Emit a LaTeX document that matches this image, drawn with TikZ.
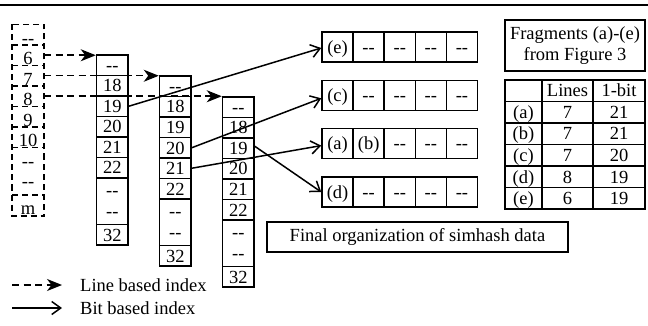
\documentclass[tikz,border=0pt]{standalone}
\usepackage{fontspec}
\setmainfont{Liberation Serif}
\usetikzlibrary{arrows.meta,calc}
\newcommand\dashdash{-{}-}
\begin{document}
\begin{tikzpicture}[x=1pt,y=-1pt,
  every node/.style={font=\fontsize{18.5}{21}\selectfont, inner sep=0pt},
  cell/.style={draw, line width=1.5pt, minimum width=31.5pt, minimum height=20.5pt, text height=12.5pt, text depth=0pt},
  fcell/.style={draw, line width=1.5pt, minimum width=31.1pt, minimum height=30pt, text height=12.5pt, text depth=0pt},
  tcell/.style={draw, line width=1.4pt, minimum height=21.5pt, text height=12.5pt, text depth=0pt},
  lrow/.style={minimum width=32pt, minimum height=20.5pt, text height=20pt, text depth=0.5pt},
  lcol/.style={line width=1.5pt, dash pattern=on 6pt off 4pt},
  dasharrow/.style={line width=1.5pt, dash pattern=on 7pt off 4.5pt, -{Stealth[length=15pt,width=12pt,inset=4.5pt]}},
  bitarrow/.style={line width=1.5pt, -{Straight Barb[length=9pt,width=13pt]}}
]
\useasboundingbox (0,0) rectangle (648,326);
% top rule
\draw[line width=2.4pt] (0,5) -- (648,5);

% left dashed column
\draw[lcol] (12,24.5) rectangle (44,216);
\foreach \yy in {45,65.5,86,106.5,127,147.5,195} \draw[lcol] (12,\yy) -- (44,\yy);
\foreach \t [count=\i from 0] in {\dashdash,6,7,8,9,10}
  \node[lrow] (Lr\i) at (28,34.75+20.5*\i) {\t};
\node[anchor=base] (Lda) at (28,167.5) {\dashdash};
\node[anchor=base] (Ldb) at (28,187.5) {\dashdash};
\node[anchor=base] (Lm) at (28,214) {m};

% solid columns
\foreach \c/\x/\y in {1/96.5/55,2/159.5/76,3/222.5/97}{
  \foreach \t [count=\i from 0] in {\dashdash,18,19,20,21,22}
    \node[cell] (c\c-\i) at (\x+15.75,\y+10.25+20.5*\i) {\t};
  \node[cell, minimum height=46.5pt] (c\c-d) at (\x+15.75,\y+146.25) {};
  \node[anchor=base] (c\c-da) at (\x+15.75,\y+141.6) {\dashdash};
  \node[anchor=base] (c\c-db) at (\x+15.75,\y+162.6) {\dashdash};
  \node[cell] (c\c-7) at (\x+15.75,\y+179.75) {32};
}

% dashed arrows
\draw[dasharrow] (Lr1.east) -- (Lr1.east -| c1-0.west);
\draw[dasharrow] (Lr2.east) -- (Lr2.east -| c2-0.west);
\draw[dasharrow] (Lr3.east) -- (Lr3.east -| c3-0.west);

% fragment rows
\foreach \r/\y/\tb in {e/47/\dashdash, c/95.3/\dashdash, a/143.6/(b), d/192/\dashdash}{
  \node[fcell] (f\r1) at (337.55,\y) {(\r)};
  \node[fcell] (f\r2) at (368.65,\y) {\tb};
  \foreach \j in {3,4,5} \node[fcell] (f\r\j) at (322+31.1*\j-15.55,\y) {\dashdash};
}

% bit arrows
\draw[bitarrow] (c1-2.east) -- ($(fe1.west)+(0,1)$);
\draw[bitarrow] (c2-3.east) -- ($(fc1.west)+(0,3)$);
\draw[bitarrow] (c2-4.east) -- ($(fa1.west)+(0,2)$);
\draw[bitarrow] ($(c3-2.east)+(0,-2)$) -- (fd1.west);

% final box
\node[draw, line width=1.2pt, minimum width=301pt, minimum height=30pt] (fin) at (417.5,237) {Final organization of simhash data};

% fragments box and table
\node[draw, line width=1.5pt, minimum width=140pt, minimum height=51pt, align=center] (fb) at (575,45.5) {Fragments (a)-(e)\\from Figure 3};
\foreach \a/\b/\cc [count=\i from 0] in {/Lines/1-bit, (a)/7/21, (b)/7/21, (c)/7/20, (d)/8/19, (e)/6/19}{
  \node[tcell, minimum width=37pt] (t\i-1) at (523.5,90.75+21.5*\i) {\a};
  \node[tcell, minimum width=51pt] (t\i-2) at (567.5,90.75+21.5*\i) {\b};
  \node[tcell, minimum width=52pt] (t\i-3) at (619,90.75+21.5*\i) {\cc};
}

% legend
\coordinate (l1a) at (12,285); \coordinate (l1b) at (62,285);
\node[anchor=west] (l1t) at (80,285) {Line based index};
\draw[dasharrow] (l1a) -- (l1b);
\coordinate (l2a) at (12,308); \coordinate (l2b) at (62,308);
\node[anchor=west] (l2t) at (80,308) {Bit based index};
\draw[bitarrow] (l2a) -- (l2b);
\end{tikzpicture}
\end{document}
